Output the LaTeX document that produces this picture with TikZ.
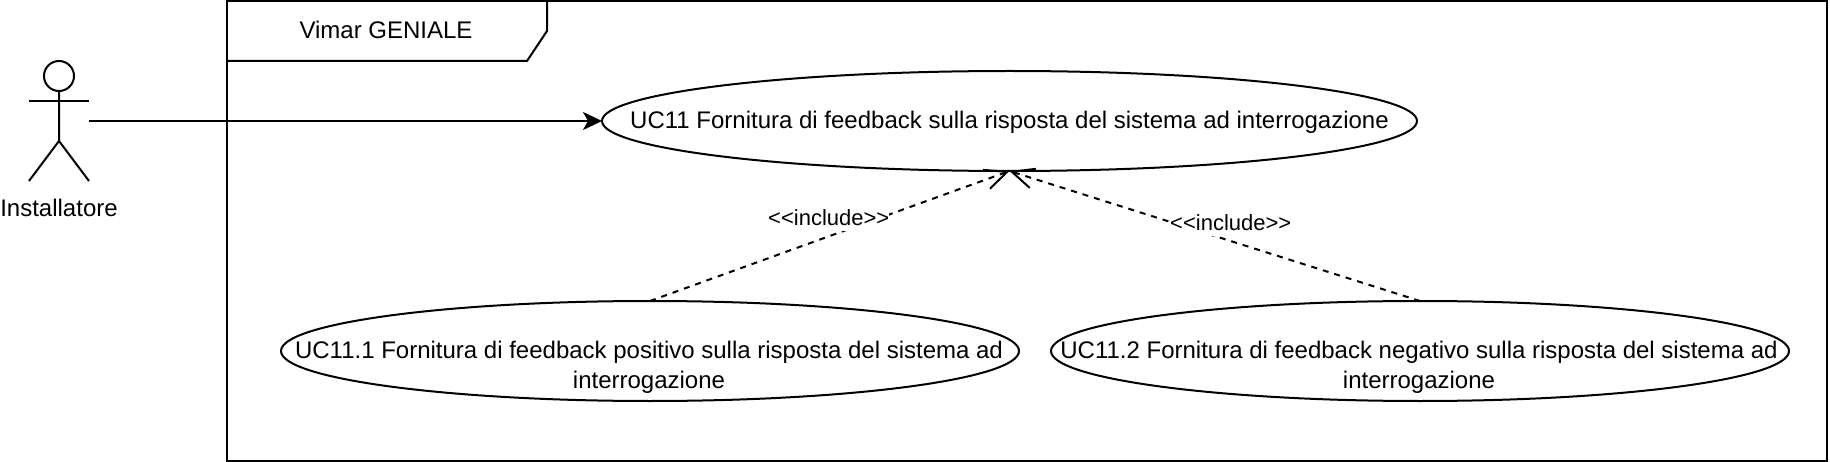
\documentclass[tikz,border=0pt]{standalone}
\usepackage{fontspec}
\setmainfont{Liberation Sans}
\usetikzlibrary{positioning, shapes.geometric, arrows.meta}

\tikzset{
    usecase/.style={draw, ellipse, outer sep=0pt, inner sep=0pt, minimum height=100pt},
    casetext/.style={inner sep=0pt, align=center},
    frameline/.style={draw, outer sep=0pt, inner sep=0pt},
    inclabel/.style={fill=white, inner sep=0pt, minimum width=120pt, minimum height=26pt, font=\fontsize{22}{26}\selectfont},
    dep/.style={dash pattern=on 6pt off 6pt, -{Straight Barb[length=22pt, width=20pt, line width=2pt]}}
}

\begin{document}
\begin{tikzpicture}[x=1pt, y=-1pt, line width=2pt, font=\fontsize{24}{30}\selectfont]
    \useasboundingbox (0,0) rectangle (1830,462);

    % boundary with its tab
    \node[frameline, minimum width=1600pt, minimum height=460pt] (Frame) at (1027,231) {};
    \node[inner sep=0pt] (FrameName) at (386,30) {Vimar GENIALE};
    \draw (Frame.north west) ++(0,60) -- ++(300,0) -- ++(20,-30) -- ++(0,-30);

    % actor
    \node[inner sep=0pt, outer sep=0pt, minimum width=60pt, minimum height=120pt] (Inst) at (59,121) {};
    \node[inner sep=0pt, below=17pt of Inst] (InstName) {Installatore};
    \draw (59,76) circle (15);
    \draw (59,91) -- (59,141) -- (29,181);
    \draw (59,141) -- (89,181);
    \draw (29,101) -- (89,101);

    % use cases
    \node[usecase, minimum width=815pt, label={[casetext, name=UC11Name, yshift=-1pt]center:UC11 Fornitura di feedback sulla risposta del sistema ad interrogazione}] (UC11) at (1009.5,121) {};
    \node[usecase, minimum width=738pt, label={[casetext, name=UC111Name, xshift=-1pt, yshift=-16pt]center:UC11.1 Fornitura di feedback positivo sulla risposta del sistema ad\\interrogazione}] (UC111) at (650,351) {};
    \node[usecase, minimum width=738pt, right=32pt of UC111, label={[casetext, name=UC112Name, xshift=-1pt, yshift=-16pt]center:UC11.2 Fornitura di feedback negativo sulla risposta del sistema ad\\interrogazione}] (UC112) {};

    \draw[-{Stealth[length=19pt, width=18pt, inset=5pt]}] (Inst) -- (UC11);
    \draw[dep] (UC111.north) -- node[inclabel, xshift=-1pt, yshift=18pt] (IncA) {<{}<include>{}>} (UC11.south);
    \draw[dep] (UC112.north) -- node[inclabel, xshift=16pt, yshift=13pt] (IncB) {<{}<include>{}>} (UC11.south);
\end{tikzpicture}
\end{document}
